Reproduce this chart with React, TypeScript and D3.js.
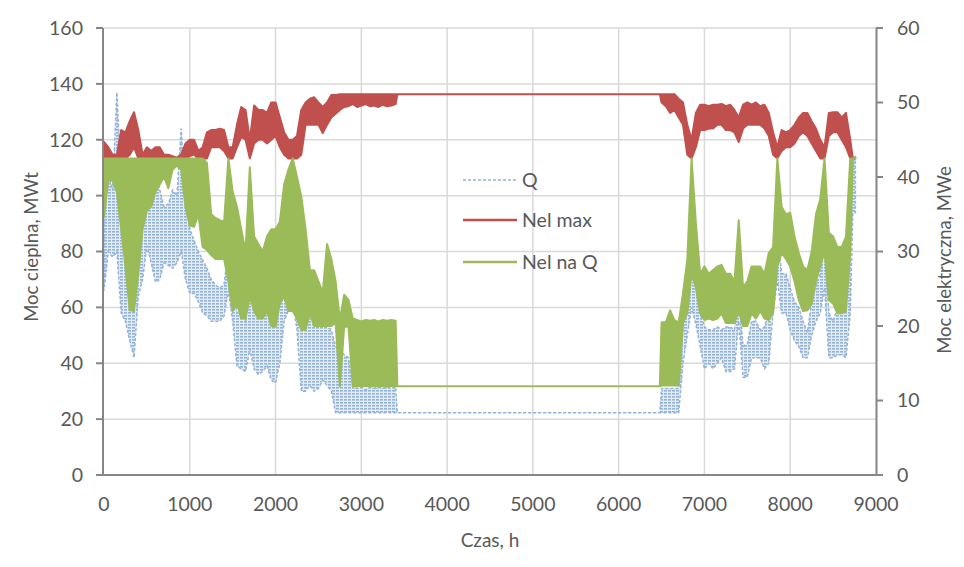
import React from 'react';
import * as d3 from 'd3';

// Hour bins (band of hourly data read as min/max per bin)
const hours = [
  0, 50, 100, 150, 200, 250, 300, 350, 400, 450, 500, 550, 600, 650, 700, 750, 800, 850, 900, 950,
  1000, 1050, 1100, 1150, 1200, 1250, 1300, 1350, 1400, 1450, 1500, 1550, 1600, 1650, 1700, 1750, 1800, 1850, 1900, 1950,
  2000, 2050, 2100, 2150, 2200, 2250, 2300, 2350, 2400, 2450, 2500, 2550, 2600, 2650, 2700, 2750, 2800, 2850, 2900, 2950,
  3000, 3050, 3100, 3150, 3200, 3250, 3300, 3350, 3400, 3420,
  6480, 6500, 6550, 6600, 6650, 6700, 6750, 6800, 6850, 6900, 6950,
  7000, 7050, 7100, 7150, 7200, 7250, 7300, 7350, 7400, 7450, 7500, 7550, 7600, 7650, 7700, 7750, 7800, 7850, 7900, 7950,
  8000, 8050, 8100, 8150, 8200, 8250, 8300, 8350, 8400, 8450, 8500, 8550, 8600, 8650, 8700, 8730, 8760,
];

// Q, MWt (left axis)
const qLo = [
  66, 80, 78, 80, 58, 55, 48, 42, 64, 70, 82, 76, 69, 70, 76, 75, 74, 76, 80, 70,
  65, 65, 62, 58, 57, 55, 55, 55, 57, 66, 55, 39, 38, 37, 45, 38, 36, 37, 39, 34,
  33, 40, 55, 59, 62, 52, 30, 30, 32, 30, 31, 34, 32, 30, 22.3, 22.3, 22.3, 22.3, 22.3, 22.3,
  22.3, 22.3, 22.3, 22.3, 22.3, 22.3, 22.3, 22.3, 22.3, 22.3,
  22.3, 22.3, 22.3, 22.3, 22.3, 22.3, 40, 50, 60, 54, 46,
  38, 40, 38, 40, 42, 37, 37, 38, 55, 35, 35, 42, 42, 42, 38, 40, 58, 70, 58, 58,
  52, 48, 46, 42, 42, 50, 55, 58, 67, 42, 42, 43, 43, 42, 58, 94, 94,
];
const qHi = [
  98, 108, 102, 137, 105, 88, 70, 66, 94, 94, 110, 108, 117, 102, 96, 97, 102, 100, 124, 98,
  88, 84, 80, 77, 74, 70, 68, 67, 68, 82, 73, 58, 58, 55, 77, 62, 64, 62, 64, 58,
  55, 62, 76, 80, 81, 73, 60, 59, 59, 57, 56, 53, 53, 52, 46, 45, 43, 42, 31.5, 31,
  31.5, 30.5, 31.5, 31, 31.5, 31, 31.5, 31, 31.5, 22.3,
  22.3, 31, 31, 31, 31, 31, 52, 75, 80.5, 74, 58,
  53, 52, 52, 53, 52, 53, 53, 52, 66, 46, 47, 55, 55, 52, 53, 58, 77, 88, 72, 72,
  67, 62, 60, 55, 51, 62, 68, 72, 84, 58, 55, 60, 58, 62, 81, 114, 114,
];

// Nel max, MWe (right axis)
const nmLo = [
  42.5, 42.5, 42.5, 42.5, 42.5, 42.5, 43, 44, 42.5, 42.5, 42.5, 42.5, 42.5, 42.5, 42.5, 42.5, 42.5, 42.5, 42.5, 42.5,
  42.8, 43, 42.5, 42.5, 42.5, 44, 44, 44, 43.5, 42.5, 42.5, 44, 45.4, 45, 42.5, 44.5, 45, 45, 44.5, 45,
  45.5, 44, 43, 42.5, 42.5, 42.5, 43, 47, 47, 47, 47, 45.9, 47, 48, 48.5, 49, 49.4, 49.5, 49.8, 49.4,
  49.6, 49.8, 49.5, 49.6, 49.4, 49.7, 49.5, 49.6, 49.8, 51.1,
  51.1, 50, 49.5, 48.6, 49, 48, 47, 43, 42.5, 44, 46.3,
  46.3, 46.5, 46.5, 47, 47, 46.3, 46.3, 46, 44.7, 46.5, 47, 47, 47, 47, 46.5, 45.5, 43, 42.5, 43.5, 44,
  44, 44.5, 45.5, 46, 45.5, 44.5, 43.5, 42.5, 42.5, 45.5, 46, 46, 45, 44, 42.5, 42.5, 42.5,
];
const nmHi = [
  44.7, 44, 43, 43, 46.3, 46, 47.5, 48.7, 46.3, 43, 44, 43.5, 44, 44, 43, 43, 42.8, 42.6, 43, 44.5,
  45, 45, 43.5, 44, 46, 46.3, 46.3, 46.5, 46.3, 44, 44, 47, 49.4, 49, 45, 49.6, 49, 49, 48.6, 50,
  50, 48, 46, 45, 45, 45.5, 49, 50, 50.5, 50.7, 50, 49.4, 50, 51, 51, 51.1, 51.1, 51.1, 51.1, 51.1,
  51.1, 51.1, 51.1, 51.1, 51.1, 51.1, 51.1, 51.1, 51.1, 51.1,
  51.1, 51.1, 51.1, 51.1, 51.1, 50.5, 50, 47, 45, 48.6, 49.7,
  49.7, 49.5, 49.7, 49.7, 49.8, 49.5, 49.7, 49, 48, 49.7, 50, 49.7, 50, 49.5, 49.7, 48.6, 46, 44, 46.3, 46,
  46.3, 47, 48, 48.6, 48.6, 47.5, 46.5, 45, 44, 48.6, 48.7, 48.7, 48, 48.6, 45, 42.5, 42.5,
];

// Nel na Q, MWe (right axis)
const ngLo = [
  34.6, 39.6, 39.5, 38, 33, 28, 22.1, 22, 27, 33, 35.5, 36, 38, 39, 40, 38.5, 41, 41.5, 41, 36,
  33.5, 33.3, 35, 30.6, 30.2, 29.5, 29, 29, 29, 26, 22, 23, 21, 21, 24, 22, 21, 21, 22, 20,
  19.9, 23, 24, 22, 22, 21, 19.5, 19.5, 21.7, 20, 20, 20, 20, 20, 20.4, 11.9, 19.9, 19.9, 11.9, 11.9,
  11.9, 11.9, 11.9, 11.9, 11.9, 11.9, 11.9, 11.9, 11.9, 11.9,
  11.9, 12, 12, 12, 12, 12, 20.4, 21.7, 27, 25.2, 21.7,
  20.8, 21, 20.8, 21, 21.7, 20.4, 20.4, 20.4, 22, 20, 20, 21.7, 21, 22, 21, 20.8, 21.7, 28, 29.8, 29,
  28, 26, 23.5, 22, 22.1, 23, 26, 28, 30, 23.5, 23, 21.7, 21.7, 22, 30, 42.5, 42.5,
];
const ngHi = [
  42.5, 42.5, 42.5, 42.5, 42.5, 42.5, 42.5, 42.5, 42.5, 42.5, 42.5, 42.5, 42.5, 42.5, 42.5, 42.5, 42.5, 42.5, 42.5, 42.5,
  42.5, 42.5, 42.5, 42.5, 41.9, 35, 34.5, 34.2, 34, 42.5, 38, 36, 33, 30, 41.3, 32, 31, 30, 32, 33,
  33, 34, 39, 41, 42.5, 40, 37.4, 33, 27.5, 27.5, 26, 24.5, 31, 29, 26, 20.8, 24.2, 23.5, 21, 20.8,
  20.6, 20.8, 20.7, 20.8, 20.6, 20.8, 20.7, 20.8, 20.7, 11.9,
  11.9, 20.5, 20.5, 22.1, 20.8, 20.5, 24.4, 28.9, 42.5, 33.8, 27,
  28, 27, 27.5, 28, 28.2, 27, 27, 26, 34.2, 25.2, 26, 28, 28, 28, 27, 29.8, 30.6, 42.5, 36, 35,
  35.2, 32, 29.8, 28, 27.5, 30, 35, 37, 42.5, 32.5, 32, 30.6, 30.6, 32, 42.5, 42.5, 42.5,
];

const xTicks = [0, 1000, 2000, 3000, 4000, 5000, 6000, 7000, 8000, 9000];
const leftTicks = [0, 20, 40, 60, 80, 100, 120, 140, 160];
const rightTicks = [0, 10, 20, 30, 40, 50, 60];
const legendItems = ['Q', 'Nel max', 'Nel na Q'];

const W = 964;
const H = 567;
const FONT = 'Lato, "Open Sans", sans-serif';
const TXT = '#595959';
const C_Q = '#95b3d7';
const C_R = '#c0504d';
const C_G = '#9bbb59';

export default function App() {
  const x = d3.scaleLinear().domain([0, 9000]).range([104, 876]);
  const yL = d3.scaleLinear().domain([0, 160]).range([475, 28]);
  const yR = d3.scaleLinear().domain([0, 60]).range([475, 28]);
  const idx = hours.map((_, i) => i);

  const band = (lo: number[], hi: number[], y: d3.ScaleLinear<number, number>) =>
    d3
      .area<number>()
      .x((i) => x(hours[i]))
      .y0((i) => y(lo[i]))
      .y1((i) => y(hi[i]))(idx) || '';

  const qPath = band(qLo, qHi, yL);
  const rPath = band(nmLo, nmHi, yR);
  const gPath = band(ngLo, ngHi, yR);

  const legendY = [180, 220, 262];
  const legendColors = [C_Q, C_R, C_G];

  return (
    <svg
      width={W}
      height={H}
      style={{ position: 'absolute', left: 0, top: 0, background: '#fff' }}
      fontFamily={FONT}
    >
      <defs>
        <pattern id="qpat" width="4" height="3" patternUnits="userSpaceOnUse">
          <rect x="0" y="0" width="4" height="3" fill="#e3ebf5" />
          <rect x="0" y="0" width="3" height="1.6" fill={C_Q} />
        </pattern>
      </defs>
      <rect x={0} y={0} width={W} height={H} fill="#fff" />
      {/* gridlines */}
      {leftTicks.slice(1).map((t) => (
        <line key={'h' + t} x1={104} x2={876} y1={yL(t)} y2={yL(t)} stroke="#d9d9d9" strokeWidth={1.5} />
      ))}
      {xTicks.slice(1, -1).map((t) => (
        <line key={'v' + t} x1={x(t)} x2={x(t)} y1={28} y2={475} stroke="#d9d9d9" strokeWidth={1.5} />
      ))}

      {/* series */}
      <path d={qPath} fill="url(#qpat)" stroke={C_Q} strokeWidth={1.5} strokeDasharray="3,2" />
      <path d={rPath} fill={C_R} stroke={C_R} strokeWidth={2} strokeLinejoin="round" />
      <path d={gPath} fill={C_G} stroke={C_G} strokeWidth={2} strokeLinejoin="round" />

      {/* axes */}
      <line x1={103} x2={103} y1={28} y2={475} stroke="#868686" strokeWidth={2} />
      <line x1={876.5} x2={876.5} y1={28} y2={475} stroke="#868686" strokeWidth={2} />
      <line x1={96} x2={877} y1={475} y2={475} stroke="#868686" strokeWidth={2} />
      {leftTicks.map((t) => (
        <g key={'lt' + t}>
          <line x1={96} x2={103} y1={yL(t)} y2={yL(t)} stroke="#868686" strokeWidth={2} />
          <text x={83} y={yL(t)} dy="0.35em" textAnchor="end" fontSize={19.5} fill={TXT}>
            {t}
          </text>
        </g>
      ))}
      {rightTicks.map((t) => (
        <g key={'rt' + t}>
          <line x1={876} x2={883} y1={yR(t)} y2={yR(t)} stroke="#868686" strokeWidth={2} />
          <text x={897} y={yR(t)} dy="0.35em" textAnchor="start" fontSize={19.5} fill={TXT}>
            {t}
          </text>
        </g>
      ))}
      {xTicks.map((t) => (
        <text key={'xt' + t} x={x(t)} y={511} textAnchor="middle" fontSize={19.5} fill={TXT}>
          {t}
        </text>
      ))}

      {/* axis titles */}
      <text x={490} y={547} textAnchor="middle" fontSize={19} fill={TXT}>
        Czas, h
      </text>
      <text
        transform={`translate(38,247) rotate(-90)`}
        textAnchor="middle"
        fontSize={18.5}
        fill={TXT}
      >
        Moc cieplna, MWt
      </text>
      <text
        transform={`translate(951,260) rotate(-90)`}
        textAnchor="middle"
        fontSize={18.5}
        fill={TXT}
      >
        Moc elektryczna, MWe
      </text>

      {/* legend */}
      {legendItems.map((name, i) => (
        <g key={name}>
          <line
            x1={463}
            x2={517}
            y1={legendY[i]}
            y2={legendY[i]}
            stroke={legendColors[i]}
            strokeWidth={i === 0 ? 1.5 : 2.5}
            strokeDasharray={i === 0 ? '3,2' : undefined}
          />
          <text x={522} y={legendY[i]} dy="0.35em" fontSize={19.5} fill={TXT}>
            {name}
          </text>
        </g>
      ))}
    </svg>
  );
}
